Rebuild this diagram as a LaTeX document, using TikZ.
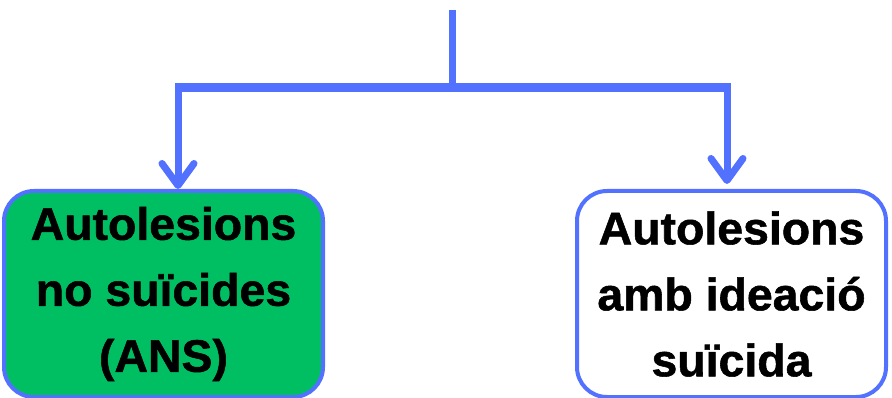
\documentclass[tikz,border=0pt]{standalone}
\usepackage{fontspec}
\setmainfont{Liberation Sans}
\newfontfamily\boxfont[FakeStretch=1.02,FakeBold=1.2]{Liberation Sans Bold}
\usetikzlibrary{arrows.meta}
\definecolor{cblue}{HTML}{5271FF}
\definecolor{cgreen}{HTML}{00BF63}
\begin{document}
\begin{tikzpicture}[x=1pt,y=-1pt,
  conn/.style={draw=cblue,line width=7pt},
  barline/.style={draw=cblue,line width=9pt},
  arr/.style={conn,-{Straight Barb[length=22pt,width=32pt,round]}},
  box/.style={draw=cblue,line width=4pt,rounded corners=30pt,minimum height=206pt,
    align=center,font=\boxfont\fontsize{45.5}{66}\selectfont,inner sep=0pt,text=black}]
\useasboundingbox (0,0) rectangle (892,398);
\fill[white] (0,0) rectangle (892,398);
\node[box,fill=cgreen,minimum width=319pt] (b1) at (163.5,294) {Autolesions\\no suïcides\\(ANS)};
\node[box,fill=white,minimum width=309pt] (b2) at (731.5,294) {Autolesions\\amb ideació\\suïcida};
\coordinate (top) at (452.5,10);
\coordinate (j) at (452.5,88);
\coordinate (jl) at (178,88);
\coordinate (jr) at (727,88);
\draw[conn] (top) -- (j);
\draw[barline,shorten <=-3.5pt,shorten >=-3.5pt] (jl) -- (jr);
\draw[arr] (jl) -- (jl |- b1.north);
\draw[arr,shorten >=5pt] (jr) -- (jr |- b2.north);
\end{tikzpicture}
\end{document}
